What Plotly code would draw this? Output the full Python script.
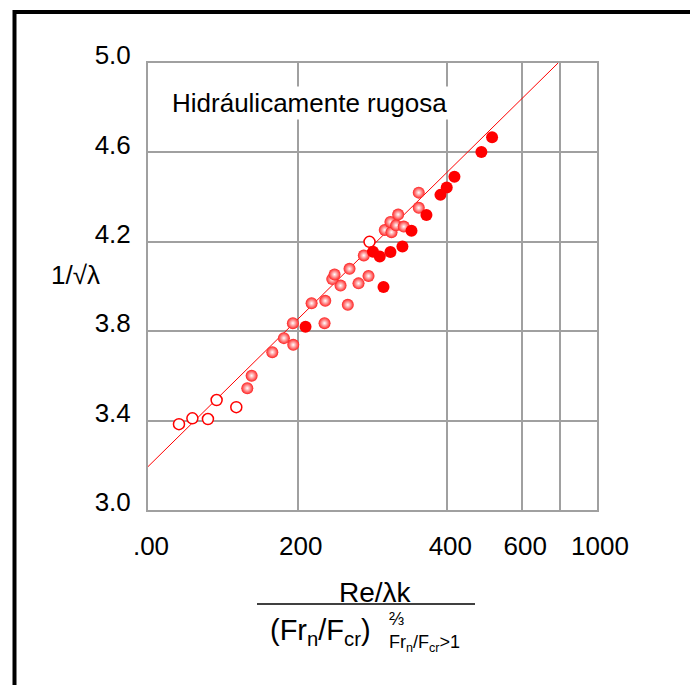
import plotly.graph_objects as go

# ---- data (x in axis units: linear up to 400, compressed beyond) ----
open_x = [41.4, 59.3, 80.1, 91.7, 118.0, 296.0]
open_y = [3.384, 3.410, 3.407, 3.492, 3.460, 4.200]

grad_x = [132.7, 138.5, 166.1, 181.6, 194.1, 193.6, 235.9, 218.6, 236.9, 267.0,
          257.3, 246.2, 249.3, 269.3, 281.3, 294.7, 288.4, 316.4, 325.4, 324.0,
          331.6, 341.8, 334.3, 361.8, 361.8]
grad_y = [3.545, 3.601, 3.706, 3.769, 3.739, 3.836, 3.836, 3.925, 3.936, 3.918,
          4.004, 4.033, 4.054, 4.079, 4.014, 4.047, 4.139, 4.253, 4.243, 4.289,
          4.274, 4.268, 4.322, 4.420, 4.352]

solid_x = [210.5, 314.7, 300.7, 309.7, 324.0, 340.0, 352.1, 372.1, 390.8, 399.2,
           409.5, 445.5, 459.8]
solid_y = [3.820, 3.998, 4.155, 4.134, 4.154, 4.179, 4.249, 4.320, 4.410, 4.443,
           4.491, 4.602, 4.668]

line_x = [0, 548]
line_y = [3.194, 5.0]

x_tickvals = [0, 200, 400, 500, 550, 600]
x_ticktext = [".00", "200", "400", "600", "", "1000"]
y_tickvals = [3.0, 3.4, 3.8, 4.2, 4.6, 5.0]

OFF = 8  # page body margin
W, H = 690, 677
L, T = 148 - OFF, 63 - OFF
PW, PH = 449, 447
R, B = W - L - PW, H - T - PH


def px(x):
    return (x - OFF - L) / PW


def py(y):
    return (T + PH - (y - OFF)) / PH


FONT = "Arial, Liberation Sans, sans-serif"
RED = "#ff0000"
FS = 26

fig = go.Figure()
fig.add_trace(go.Scatter(x=line_x, y=line_y, mode="lines",
                         line=dict(color=RED, width=1), hoverinfo="skip"))
fig.add_trace(go.Scatter(x=open_x, y=open_y, mode="markers",
                         marker=dict(size=11, color="white",
                                     line=dict(color=RED, width=1.5))))
fig.add_trace(go.Scatter(x=grad_x, y=grad_y, mode="markers",
                         marker=dict(size=12, color="#ff2020",
                                     gradient=dict(type="radial", color="white"),
                                     line=dict(width=0))))
fig.add_trace(go.Scatter(x=solid_x, y=solid_y, mode="markers",
                         marker=dict(size=12, color=RED, line=dict(width=0))))

axis_common = dict(showline=True, mirror=True, linecolor="#a0a0a0", linewidth=2,
                   showgrid=True, gridcolor="#a0a0a0", gridwidth=2,
                   zeroline=False, ticks="",
                   tickfont=dict(family=FONT, size=FS, color="black"))

fig.update_xaxes(range=[0, 600], tickmode="array", tickvals=x_tickvals,
                 ticktext=x_ticktext, ticklabelstandoff=12, ticklabelshift=3,
                 **axis_common)
fig.update_yaxes(range=[3.0, 5.0], tickmode="array", tickvals=y_tickvals,
                 ticktext=[f"{v:.1f}" for v in y_tickvals],
                 ticklabelstandoff=10, ticklabelshift=-8, **axis_common)

annotations = [
    dict(text="Hidráulicamente rugosa", x=px(309), y=py(103), showarrow=False,
         font=dict(family=FONT, size=FS, color="black"), bgcolor="white",
         xanchor="center", yanchor="middle"),
    dict(text="1/√λ", x=px(75), y=py(275), showarrow=False,
         font=dict(family=FONT, size=FS, color="black"),
         xanchor="center", yanchor="middle"),
    dict(text="Re/λk", x=px(375), y=py(592), showarrow=False,
         font=dict(family=FONT, size=28, color="black"),
         xanchor="center", yanchor="middle"),
    dict(text="(Fr<sub>n</sub>/F<sub>cr</sub>)", x=px(320), y=py(632), showarrow=False,
         font=dict(family=FONT, size=29, color="black"),
         xanchor="center", yanchor="middle"),
    dict(text="⅔", x=px(396), y=py(619), showarrow=False,
         font=dict(family=FONT, size=18, color="black"),
         xanchor="center", yanchor="middle"),
    dict(text="Fr<sub>n</sub>/F<sub>cr</sub>&gt;1", x=px(424), y=py(643), showarrow=False,
         font=dict(family=FONT, size=18, color="black"),
         xanchor="center", yanchor="middle"),
]
for a in annotations:
    a.update(xref="paper", yref="paper")

shapes = [
    dict(type="line", xref="paper", yref="paper", x0=px(257), x1=px(475),
         y0=py(604), y1=py(604), line=dict(color="black", width=1.5)),
    dict(type="rect", xref="paper", yref="paper", x0=px(14.5), x1=px(760),
         y0=py(12), y1=py(760), line=dict(color="black", width=4),
         fillcolor="rgba(0,0,0,0)"),
]

fig.update_layout(width=W, height=H, margin=dict(l=L, r=R, t=T, b=B),
                  paper_bgcolor="white", plot_bgcolor="white",
                  showlegend=False, annotations=annotations, shapes=shapes,
                  font=dict(family=FONT))

fig.write_html("out.html")
